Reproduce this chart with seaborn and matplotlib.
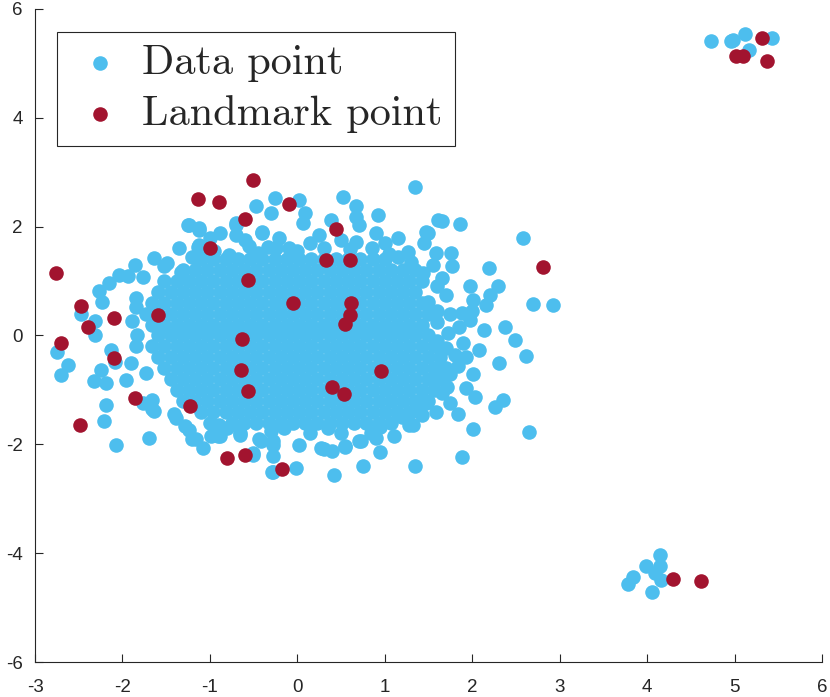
import matplotlib
matplotlib.use("Agg")
import matplotlib.pyplot as plt
import seaborn as sns
import numpy as np
import pandas as pd

# dense core of the data cloud, read row by row (one y per row)
core_y = [1.4, 1.2, 1.0, 0.8, 0.6, 0.4, 0.2, 0.0, -0.2, -0.4, -0.6, -0.8, -1.0, -1.2, -1.4, -1.6]
core_x = [
    [-1.10, -0.96, -0.82, -0.68, -0.54, -0.40, -0.26, -0.12, 0.02, 0.16, 0.30, 0.44, 0.58, 0.72, 0.86, 1.00],
    [-1.31, -1.17, -1.03, -0.89, -0.75, -0.61, -0.47, -0.33, -0.19, -0.05, 0.09, 0.23, 0.37, 0.51, 0.65, 0.79,
     0.93, 1.07, 1.21, 1.35],
    [-1.52, -1.38, -1.24, -1.10, -0.96, -0.82, -0.68, -0.54, -0.40, -0.26, -0.12, 0.02, 0.16, 0.30, 0.44, 0.58,
     0.72, 0.86, 1.00, 1.14, 1.28, 1.42],
    [-1.59, -1.45, -1.31, -1.17, -1.03, -0.89, -0.75, -0.61, -0.47, -0.33, -0.19, -0.05, 0.09, 0.23, 0.37, 0.51,
     0.65, 0.79, 0.93, 1.07, 1.21, 1.35],
    [-1.66, -1.52, -1.38, -1.24, -1.10, -0.96, -0.82, -0.68, -0.54, -0.40, -0.26, -0.12, 0.02, 0.16, 0.30, 0.44,
     0.58, 0.72, 0.86, 1.00, 1.14, 1.28, 1.42],
    [-1.73, -1.59, -1.45, -1.31, -1.17, -1.03, -0.89, -0.75, -0.61, -0.47, -0.33, -0.19, -0.05, 0.09, 0.23, 0.37,
     0.51, 0.65, 0.79, 0.93, 1.07, 1.21, 1.35, 1.49],
    [-1.66, -1.52, -1.38, -1.24, -1.10, -0.96, -0.82, -0.68, -0.54, -0.40, -0.26, -0.12, 0.02, 0.16, 0.30, 0.44,
     0.58, 0.72, 0.86, 1.00, 1.14, 1.28, 1.42],
    [-1.59, -1.45, -1.31, -1.17, -1.03, -0.89, -0.75, -0.61, -0.47, -0.33, -0.19, -0.05, 0.09, 0.23, 0.37, 0.51,
     0.65, 0.79, 0.93, 1.07, 1.21, 1.35, 1.49],
    [-1.66, -1.52, -1.38, -1.24, -1.10, -0.96, -0.82, -0.68, -0.54, -0.40, -0.26, -0.12, 0.02, 0.16, 0.30, 0.44,
     0.58, 0.72, 0.86, 1.00, 1.14, 1.28, 1.42, 1.56],
    [-1.59, -1.45, -1.31, -1.17, -1.03, -0.89, -0.75, -0.61, -0.47, -0.33, -0.19, -0.05, 0.09, 0.23, 0.37, 0.51,
     0.65, 0.79, 0.93, 1.07, 1.21, 1.35, 1.49, 1.63],
    [-1.52, -1.38, -1.24, -1.10, -0.96, -0.82, -0.68, -0.54, -0.40, -0.26, -0.12, 0.02, 0.16, 0.30, 0.44, 0.58,
     0.72, 0.86, 1.00, 1.14, 1.28, 1.42, 1.56, 1.70],
    [-1.45, -1.31, -1.17, -1.03, -0.89, -0.75, -0.61, -0.47, -0.33, -0.19, -0.05, 0.09, 0.23, 0.37, 0.51, 0.65,
     0.79, 0.93, 1.07, 1.21, 1.35, 1.49, 1.63],
    [-1.38, -1.24, -1.10, -0.96, -0.82, -0.68, -0.54, -0.40, -0.26, -0.12, 0.02, 0.16, 0.30, 0.44, 0.58, 0.72,
     0.86, 1.00, 1.14, 1.28, 1.42, 1.56],
    [-1.31, -1.17, -1.03, -0.89, -0.75, -0.61, -0.47, -0.33, -0.19, -0.05, 0.09, 0.23, 0.37, 0.51, 0.65, 0.79,
     0.93, 1.07, 1.21, 1.35, 1.49],
    [-1.10, -0.96, -0.82, -0.68, -0.54, -0.40, -0.26, -0.12, 0.02, 0.16, 0.30, 0.44, 0.58, 0.72, 0.86, 1.00,
     1.14, 1.28],
    [-0.75, -0.61, -0.47, -0.33, -0.19, -0.05, 0.09, 0.23, 0.37, 0.51, 0.65, 0.79, 0.93, 1.07],
]

# scattered data points around the core
edge_x = [-2.75, -2.70, -2.62, -2.47, -2.31, -2.31, -2.27, -2.23, -2.15, -2.04, -1.94, -1.86, -1.85, -1.85,
          -1.77, -1.64, -1.52, -1.35, -1.33, -1.24, -1.13, -1.12, -0.89, -0.70, -0.47, -0.26, -0.30, -0.40,
          -2.13, -2.08, -2.25, -2.33, -2.19, -2.19, -2.21, -2.07, -1.70, -1.96, -1.90, -1.85, -1.83, -1.89,
          -1.73, -1.66, -1.66, -1.77, -1.41, -1.29, -1.16, -1.08, -0.97, -0.89, -0.66, -0.51, -0.44, -0.28,
          -0.28, -0.28, -0.01,
          1.34, 0.52, 0.67, 0.92, 0.02, 0.09, 1.65, 1.86, 2.58, 1.49, 1.45, 1.58, 1.76, 1.77, 2.19, 1.97,
          2.29, 2.20, 2.01, 2.70, 2.92, 2.16, 1.88, 1.97, 2.13, 2.37, 2.49, 2.62, 2.31, 1.89, 2.08, 1.93,
          1.84, 2.01, 1.93, 2.03, 1.71, 1.74, 1.84, 2.26, 2.35, 2.01, 2.65, 1.88, 1.34, 0.75, 0.42, 0.94,
          0.54, 0.31, 0.02, 1.42, 1.11, 1.28, 0.71, 0.84, 0.67, 0.90, 0.67, 1.49, 1.70, 1.44, 1.26, 1.70,
          1.63, 1.55, 1.40,
          1.60, 1.75, 1.60, 1.72, 1.60, 1.80, 1.75, 1.65, 1.58, 1.60, 1.55, 1.65, 1.85, 2.00, 1.00, 1.15,
          1.30, 1.05,
          -1.25, -1.12, -0.70, -0.70, -0.40, -0.21, 0.06, 0.39, 0.71, 1.47, 1.61, -0.78, -0.34, -1.49, -1.14,
          -0.55, -0.10, 0.15, 0.30, 0.50, 0.85, -0.95, -1.20, -0.60, 0.25, -1.00,
          -1.05, -0.45, 0.00, 0.60, 1.15, -0.25,
          -1.20, -0.99, -0.91, -0.51, -0.42, -0.28, -0.29, 0.27, 0.40, 0.55, 0.73, 0.90, 1.32, 1.47, -1.64,
          -1.39, -1.24, -0.66, -0.80, -0.30, 0.15, 0.50, 1.20, -1.00, 1.30,
          -0.90, -0.15, 0.35, 0.95]
edge_y = [-0.31, -0.72, -0.54, 0.40, 0.01, 0.26, 0.81, 0.62, 0.96, 1.11, 1.10, 1.30, 0.69, 0.53,
          1.08, 1.42, 1.27, 1.60, 1.17, 2.03, 1.94, 1.66, 1.88, 2.03, 2.37, 2.52, 2.25, 1.88,
          -0.26, -0.48, -0.63, -0.84, -0.87, -1.27, -1.58, -2.01, -1.88, -0.81, -0.51, -0.20, 0.01, 0.26,
          -0.69, -1.18, -1.36, -1.24, -1.45, -1.67, -1.91, -2.07, -1.82, -1.85, -1.79, -2.16, -1.91, -2.50,
          -2.22, -2.01, -2.43,
          2.73, 2.55, 2.37, 2.21, 2.49, 2.25, 2.11, 2.05, 1.80, 1.89, 1.69, 1.52, 1.52, 1.27, 1.24, 0.90,
          0.90, 0.75, 0.66, 0.58, 0.56, 0.56, 0.41, 0.29, 0.10, 0.15, -0.09, -0.37, -0.50, -0.13, -0.26, -0.39,
          -0.57, -0.70, -0.97, -1.13, -0.95, -1.24, -1.45, -1.32, -1.19, -1.71, -1.77, -2.23, -2.39, -2.40, -2.57, -2.15,
          -2.04, -2.08, -2.01, -1.47, -1.85, -1.64, -1.94, -1.79, 2.18, 1.88, 1.72, 0.62, 0.75, 1.14, 1.54, -0.23,
          -0.57, -0.81, -1.24,
          0.45, 0.40, 0.25, 0.05, -0.10, -0.35, -0.70, -1.05, -1.40, 0.90, 1.30, 1.05, 0.15, 0.45, 1.70, 1.80,
          1.35, 1.50,
          2.03, 1.97, 2.06, 1.85, 1.91, 1.79, 2.06, 2.12, 2.03, 1.91, 2.12, 1.48, 1.63, 1.33, 1.63,
          1.65, 1.60, 1.70, 1.60, 1.75, 1.60, 1.55, 1.45, 1.75, 1.85, 1.80,
          1.50, 1.52, 1.55, 1.58, 1.45, 1.60,
          -1.91, -1.85, -1.85, -2.19, -1.94, -1.94, -2.51, -2.07, -2.13, -2.05, -1.94, -1.88, -1.64, -1.24, -1.39,
          -1.52, -1.73, -1.82, -1.70, -1.75, -1.80, -1.80, -1.50, -1.60, -1.40,
          -1.65, -1.70, -1.70, -1.68]

# the two small far-away groups of data points
far_x = [4.73, 4.96, 4.98, 5.12, 5.17, 5.43, 4.15, 3.99, 4.15, 3.84, 3.78, 4.09, 4.16, 4.06]
far_y = [5.41, 5.41, 5.42, 5.54, 5.24, 5.46, -4.04, -4.24, -4.24, -4.44, -4.56, -4.37, -4.50, -4.72]

# landmark points
landmark_x = [-2.76, -2.47, -2.39, -2.10, -2.70, -2.10, -1.59, -1.86, -2.49, -1.23, -1.00, -1.14, -0.90,
              -0.60, -0.51, -0.10, -0.56, -0.05, -0.63, -0.64, -0.57, -0.81, -0.60, -0.17,
              0.44, 0.33, 0.60, 0.61, 0.60, 0.54, 0.96, 0.40, 0.53, 2.81,
              5.31, 5.02, 5.10, 5.37, 4.30, 4.62]
landmark_y = [1.14, 0.54, 0.15, 0.32, -0.14, -0.41, 0.37, -1.15, -1.65, -1.30, 1.61, 2.51, 2.45,
              2.14, 2.86, 2.42, 1.01, 0.59, -0.06, -0.64, -1.02, -2.26, -2.19, -2.46,
              1.96, 1.38, 1.39, 0.59, 0.37, 0.21, -0.66, -0.95, -1.08, 1.25,
              5.46, 5.13, 5.13, 5.04, -4.48, -4.51]

data_color = "#4DBEEE"
landmark_color = "#A2142F"

# assemble the data table
xs, ys = [], []
for yv, row in zip(core_y, core_x):
    xs += row
    ys += [yv] * len(row)
xs += edge_x + far_x
ys += edge_y + far_y
data_df = pd.DataFrame({"x": xs, "y": ys})
landmark_df = pd.DataFrame({"x": landmark_x, "y": landmark_y})

sns.set_theme(style="ticks")
plt.rcParams["font.family"] = ["Liberation Sans", "DejaVu Sans"]
plt.rcParams["axes.unicode_minus"] = False
plt.rcParams["xtick.direction"] = "in"
plt.rcParams["ytick.direction"] = "in"

fig = plt.figure(figsize=(8.3, 6.97), dpi=100)
ax = fig.add_axes([0.0422, 0.0502, 0.9482, 0.937])

sns.scatterplot(data=data_df, x="x", y="y", color=data_color, s=110, linewidth=0,
                label="Data point", ax=ax)
sns.scatterplot(data=landmark_df, x="x", y="y", color=landmark_color, s=110, linewidth=0,
                label="Landmark point", ax=ax)

ax.set_xlim(-3, 6)
ax.set_ylim(-6, 6)
ax.set_xticks(range(-3, 7))
ax.set_yticks(range(-6, 7, 2))
ax.set_xlabel("")
ax.set_ylabel("")
sns.despine(ax=ax)
for side in ["left", "bottom"]:
    ax.spines[side].set_color("#262626")
    ax.spines[side].set_linewidth(0.8)
ax.tick_params(axis="x", length=6, width=0.8, pad=12, labelsize=13.5, colors="#262626")
ax.tick_params(axis="y", length=6, width=0.8, pad=9, labelsize=13.5, colors="#262626")

leg = ax.legend(loc="upper left", bbox_to_anchor=(0.028, 0.965), borderaxespad=0,
                prop={"family": "cmr10", "size": 30.5}, frameon=True, fancybox=False,
                edgecolor="#262626", framealpha=1, handlelength=1.45, handletextpad=0.25,
                borderpad=0.3, labelspacing=0.3, scatterpoints=1)
leg.get_frame().set_linewidth(0.8)

fig.savefig("out.png", dpi=100)
